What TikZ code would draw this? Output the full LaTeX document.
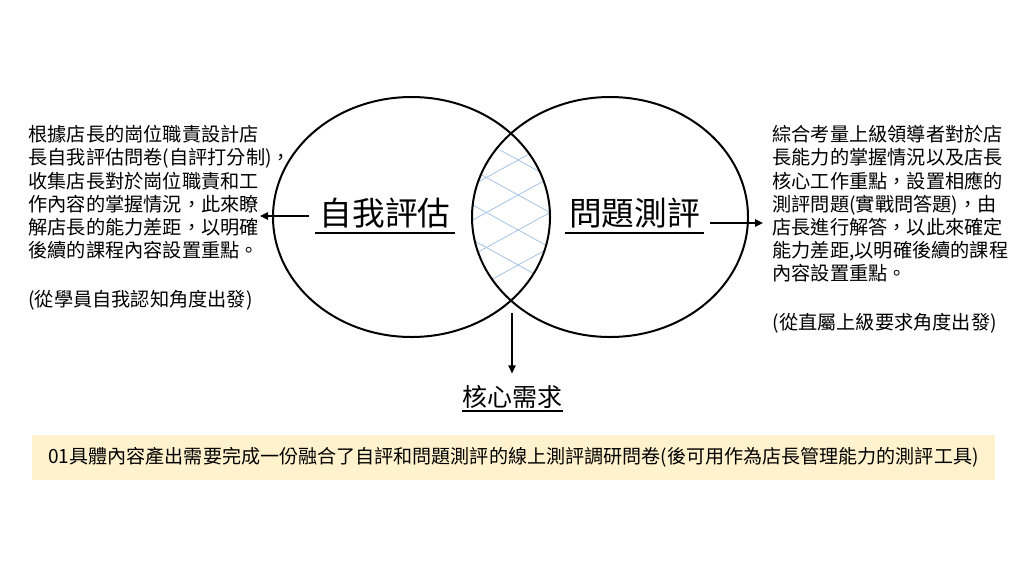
\documentclass[tikz,border=0pt]{standalone}
\usepackage{fontspec}
\setmainfont{Noto Sans CJK TC}[Script=CJK,Language=Chinese Traditional]
\usetikzlibrary{arrows.meta,calc}
\definecolor{hatchblue}{RGB}{165,195,228}
\definecolor{notefill}{RGB}{255,242,204}

\tikzset{every picture/.style={line width=0.75pt},
  vennline/.style={line width=1.5pt},
  hatchline/.style={color=hatchblue,line width=0.6pt},
  pointer/.style={line width=1.1pt,-{Triangle[length=6pt,width=5.5pt]}},
  desc/.style={anchor=north west,inner sep=0pt,align=left,font=\fontsize{14.4pt}{17.4pt}\selectfont},
  biglabel/.style={anchor=base,inner sep=0pt,font=\fontsize{24.5pt}{28pt}\selectfont},
  smalllabel/.style={anchor=base,inner sep=0pt,font=\fontsize{18.75pt}{22pt}\selectfont},
}

\begin{document}
\begin{tikzpicture}[x=0.75pt,y=0.75pt,yscale=-1,xscale=1]
\useasboundingbox (0,0) rectangle (1024,576);

%Shape: Hatch in the overlap
\begin{scope}
\clip (411.5,217) ellipse (138.5 and 120);
\clip (610,217) ellipse (138 and 120);
\clip (460,150) rectangle (560,278);
\foreach \c in {55,90,...,335} {
  \draw [hatchline] (460,{\c-32}) -- (560,{\c+23});
  \draw [hatchline] (460,{\c+32}) -- (560,{\c-23});
}
\end{scope}
%Shape: Ellipse
\draw [vennline] (411.5,217) ellipse (138.5 and 120);
%Shape: Ellipse
\draw [vennline] (610,217) ellipse (138 and 120);

% Text Node
\node [biglabel] (selfeval) at (385,225) {自我評估};
\draw [line width=1.1pt] ($(selfeval.base west)+(-4,8)$) -- ($(selfeval.base east)+(4,8)$);
% Text Node
\node [biglabel] (probeval) at (634.5,225) {問題測評};
\draw [line width=1.1pt] ($(probeval.base west)+(-4,8)$) -- ($(probeval.base east)+(4,8)$);
% Text Node
\node [smalllabel] (core) at (512,406) {核心需求};
\draw [line width=1.1pt] ($(core.base west)+(0,5)$) -- ($(core.base east)+(0,5)$);

% Text Node
\node [desc] (selftext) at (28,125) {根據店長的崗位職責設計店\\長自我評估問卷(自評打分制)，\\收集店長對於崗位職責和工\\作內容的掌握情況，此來瞭\\解店長的能力差距，以明確\\後續的課程內容設置重點。\\[19pt](從學員自我認知角度出發)};
% Text Node
\node [desc] (probtext) at (772,125) {綜合考量上級領導者對於店\\長能力的掌握情況以及店長\\核心工作重點，設置相應的\\測評問題(實戰問答題)，由\\店長進行解答，以此來確定\\能力差距,以明確後續的課程\\內容設置重點。\\[19pt](從直屬上級要求角度出發)};

%Straight Lines
\coordinate (selftip) at (260,216);
\draw [pointer] ($(selftip -| selfeval.west)+(-10,0)$) -- (selftip);
%Straight Lines
\coordinate (probtip) at (763,223);
\draw [pointer] ($(probtip -| probeval.east)+(10,0)$) -- (probtip);
%Straight Lines
\coordinate (lensfoot) at (512,313);
\draw [pointer] (lensfoot) -- ($(lensfoot |- core.north)+(0,-11)$);

% Text Node
\node [fill=notefill,minimum width=722.25pt,minimum height=33.75pt,inner sep=0pt,font=\fontsize{14.3pt}{17pt}\selectfont] (output) at (513.5,457.5) {01具體內容產出需要完成一份融合了自評和問題測評的線上測評調研問卷(後可用作為店長管理能力的測評工具)};

\end{tikzpicture}
\end{document}
